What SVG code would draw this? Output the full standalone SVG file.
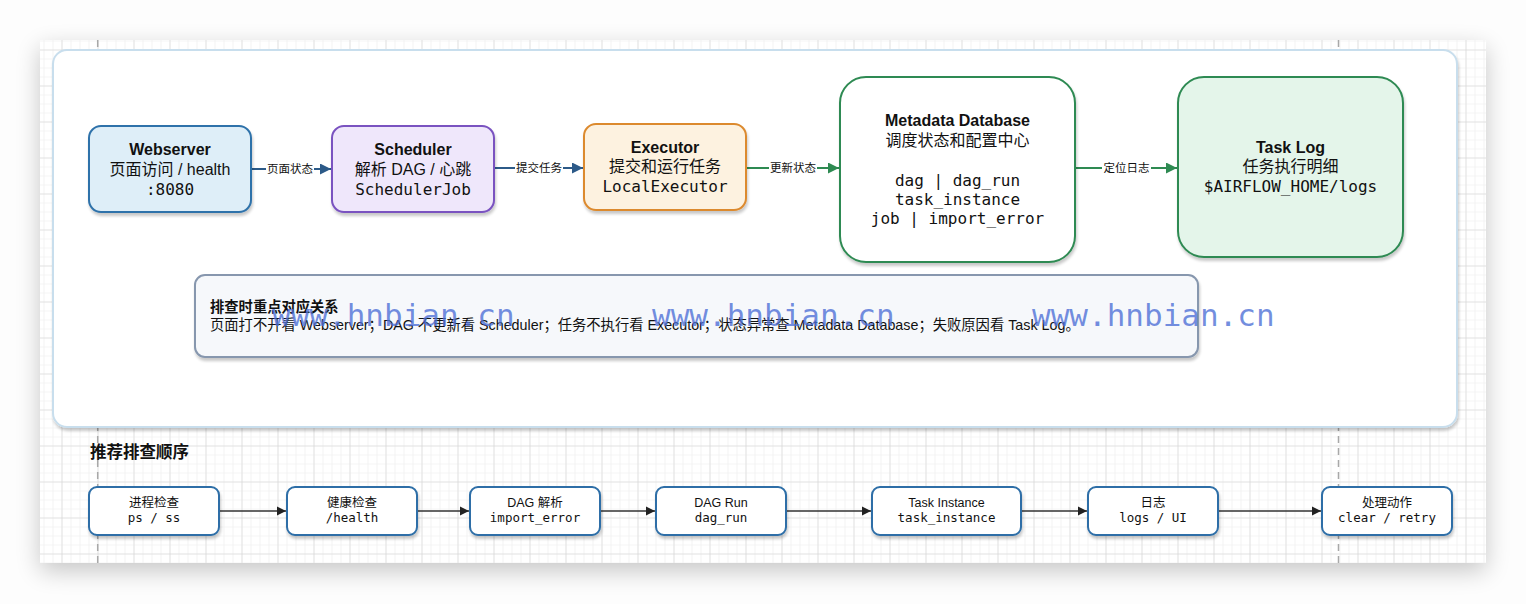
<svg xmlns="http://www.w3.org/2000/svg" width="1526" height="604" viewBox="0 0 1526 604">
<style>
.sans{font-family:"Liberation Sans","Noto Sans CJK SC",sans-serif;fill:#111}
.mono{font-family:"DejaVu Sans Mono","Liberation Mono","Noto Sans CJK SC",monospace;fill:#111}
.b{font-weight:bold}
.t16{font-size:16px}
.m16{font-size:16px}
.lbl{font-size:11.5px}
.t14{font-size:14.3px}
.s12{font-size:12.5px}
.m12{font-size:12.5px}
.link{fill:none;stroke-width:2}
.blue{stroke:#2c5a88}
.green{stroke:#2e8a52}
.step{fill:none;stroke:#333;stroke-width:1.4}
.sbox{fill:#fff;stroke:#2d6ea7;stroke-width:2}
.wm{font-family:"DejaVu Sans Mono",monospace;font-size:31px;fill:#4d6fd6;fill-opacity:0.78}
</style>
<defs>
<pattern id="minor" x="61.5" y="13.5" width="9" height="9" patternUnits="userSpaceOnUse">
<path d="M0 0H9M0 0V9" fill="none" stroke="#ebebeb" stroke-width="1.2"/>
</pattern>
<pattern id="major" x="61.5" y="13.5" width="36" height="36" patternUnits="userSpaceOnUse">
<path d="M0 0H36M0 0V36" fill="none" stroke="#d2d2d2" stroke-width="1"/>
</pattern>
<filter id="pageShadow" x="-5%" y="-10%" width="110%" height="125%">
<feGaussianBlur in="SourceAlpha" stdDeviation="12"/>
<feOffset dx="0" dy="8" result="b"/>
<feComponentTransfer><feFuncA type="linear" slope="0.22"/></feComponentTransfer>
<feMerge><feMergeNode/><feMergeNode in="SourceGraphic"/></feMerge>
</filter>
<filter id="sh" x="-10%" y="-10%" width="125%" height="130%">
<feGaussianBlur in="SourceAlpha" stdDeviation="1.5"/>
<feOffset dx="1" dy="2.5"/>
<feComponentTransfer><feFuncA type="linear" slope="0.22"/></feComponentTransfer>
<feMerge><feMergeNode/><feMergeNode in="SourceGraphic"/></feMerge>
</filter>
<marker id="ab" viewBox="0 0 10 10" refX="10" refY="5" markerWidth="5.5" markerHeight="5.5" orient="auto" markerUnits="strokeWidth">
<path d="M0 0L10 5L0 10z" fill="#2c5a88"/>
</marker>
<marker id="ag" viewBox="0 0 10 10" refX="10" refY="5" markerWidth="5.5" markerHeight="5.5" orient="auto" markerUnits="strokeWidth">
<path d="M0 0L10 5L0 10z" fill="#2e8a52"/>
</marker>
<marker id="ak" viewBox="0 0 10 10" refX="10" refY="5" markerWidth="6.5" markerHeight="6.5" orient="auto" markerUnits="strokeWidth">
<path d="M0 0L10 5L0 10z" fill="#222"/>
</marker>
</defs>

<rect width="1526" height="604" fill="#fdfdfd"/>
<g id="canvas">
<rect x="40" y="40" width="1446" height="523" fill="#fff" filter="url(#pageShadow)"/>
<rect x="40" y="40" width="1446" height="523" fill="url(#minor)"/>
<rect x="40" y="40" width="1446" height="523" fill="url(#major)"/>
<path d="M97.7 40V563M1338.5 40V563" stroke="#a8a8a8" stroke-width="1.5" stroke-dasharray="7 5" fill="none"/>
</g>

<g id="panel">
<rect x="53" y="50" width="1404" height="377" rx="14" fill="#fff" stroke="#c8deed" stroke-width="2" filter="url(#sh)"/>
</g>

<g id="connectors">
<path class="link blue" d="M251 169H331" marker-end="url(#ab)"/>
<path class="link blue" d="M494 168H583" marker-end="url(#ab)"/>
<path class="link green" d="M746 168H839" marker-end="url(#ag)"/>
<path class="link green" d="M1075 168H1177" marker-end="url(#ag)"/>
<rect x="266" y="162" width="48" height="14" fill="#fff"/>
<rect x="515" y="161" width="48" height="14" fill="#fff"/>
<rect x="769" y="161" width="48" height="14" fill="#fff"/>
<rect x="1102" y="161" width="49" height="14" fill="#fff"/>
<text class="sans lbl" x="290" y="173" text-anchor="middle">页面状态</text>
<text class="sans lbl" x="539" y="172" text-anchor="middle">提交任务</text>
<text class="sans lbl" x="793" y="172" text-anchor="middle">更新状态</text>
<text class="sans lbl" x="1126.5" y="172" text-anchor="middle">定位日志</text>

<path class="step" d="M219 511H286" marker-end="url(#ak)"/>
<path class="step" d="M417 511H469" marker-end="url(#ak)"/>
<path class="step" d="M600 511H655" marker-end="url(#ak)"/>
<path class="step" d="M786 511H871" marker-end="url(#ak)"/>
<path class="step" d="M1021 511H1087" marker-end="url(#ak)"/>
<path class="step" d="M1218 511H1321" marker-end="url(#ak)"/>
</g>

<g id="webserver">
<rect x="89" y="126" width="162" height="86" rx="12" fill="#deeef8" stroke="#2f72aa" stroke-width="2" filter="url(#sh)"/>
<text class="sans b t16" x="170" y="155" text-anchor="middle">Webserver</text>
<text class="sans t16" x="170" y="175" text-anchor="middle">页面访问 / health</text>
<text class="mono m16" x="170" y="195" text-anchor="middle">:8080</text>
</g>

<g id="scheduler">
<rect x="332" y="126" width="162" height="86" rx="12" fill="#efe7fb" stroke="#7a52c0" stroke-width="2" filter="url(#sh)"/>
<text class="sans b t16" x="413" y="155" text-anchor="middle">Scheduler</text>
<text class="sans t16" x="413" y="175" text-anchor="middle">解析 DAG / 心跳</text>
<text class="mono m16" x="413" y="195" text-anchor="middle">SchedulerJob</text>
</g>

<g id="executor">
<rect x="584" y="124" width="162" height="86" rx="12" fill="#fdf2e0" stroke="#dc8a2f" stroke-width="2" filter="url(#sh)"/>
<text class="sans b t16" x="665" y="153" text-anchor="middle">Executor</text>
<text class="sans t16" x="665" y="172" text-anchor="middle">提交和运行任务</text>
<text class="mono m16" x="665" y="192" text-anchor="middle">LocalExecutor</text>
</g>

<g id="metadata">
<rect x="840" y="77" width="235" height="185" rx="26" fill="#fff" stroke="#2e8a52" stroke-width="2" filter="url(#sh)"/>
<text class="sans b t16" x="957.5" y="126" text-anchor="middle">Metadata Database</text>
<text class="sans t16" x="957.5" y="146" text-anchor="middle">调度状态和配置中心</text>
<text class="mono m16" x="957.5" y="186" text-anchor="middle">dag | dag_run</text>
<text class="mono m16" x="957.5" y="205" text-anchor="middle">task_instance</text>
<text class="mono m16" x="957.5" y="224" text-anchor="middle">job | import_error</text>
</g>

<g id="tasklog">
<rect x="1178" y="77" width="225" height="180" rx="26" fill="#e4f5ea" stroke="#2e8a52" stroke-width="2" filter="url(#sh)"/>
<text class="sans b t16" x="1290.5" y="153" text-anchor="middle">Task Log</text>
<text class="sans t16" x="1290.5" y="172" text-anchor="middle">任务执行明细</text>
<text class="mono m16" x="1290.5" y="192" text-anchor="middle">$AIRFLOW_HOME/logs</text>
</g>

<g id="note">
<rect x="195" y="275" width="1003" height="82" rx="10" fill="#f6f8fb" stroke="#8797ae" stroke-width="2" filter="url(#sh)"/>
<text class="sans b t14" x="210" y="312">排查时重点对应关系</text>
<text class="sans t14" x="210" y="330">页面打不开看 Webserver；DAG 不更新看 Scheduler；任务不执行看 Executor；状态异常查 Metadata Database；失败原因看 Task Log。</text>
</g>

<g id="order-title">
<text class="sans b" x="90" y="458" font-size="16.5">推荐排查顺序</text>
</g>

<g id="step1">
<rect class="sbox" x="89" y="487" width="130" height="48" rx="8" filter="url(#sh)"/>
<text class="sans s12" x="154" y="506.5" text-anchor="middle">进程检查</text>
<text class="mono m12" x="154" y="522" text-anchor="middle">ps / ss</text>
</g>
<g id="step2">
<rect class="sbox" x="287" y="487" width="130" height="48" rx="8" filter="url(#sh)"/>
<text class="sans s12" x="352" y="506.5" text-anchor="middle">健康检查</text>
<text class="mono m12" x="352" y="522" text-anchor="middle">/health</text>
</g>
<g id="step3">
<rect class="sbox" x="470" y="487" width="130" height="48" rx="8" filter="url(#sh)"/>
<text class="sans s12" x="535" y="506.5" text-anchor="middle">DAG 解析</text>
<text class="mono m12" x="535" y="522" text-anchor="middle">import_error</text>
</g>
<g id="step4">
<rect class="sbox" x="656" y="487" width="130" height="48" rx="8" filter="url(#sh)"/>
<text class="sans s12" x="721" y="506.5" text-anchor="middle">DAG Run</text>
<text class="mono m12" x="721" y="522" text-anchor="middle">dag_run</text>
</g>
<g id="step5">
<rect class="sbox" x="872" y="487" width="149" height="48" rx="8" filter="url(#sh)"/>
<text class="sans s12" x="946.5" y="506.5" text-anchor="middle">Task Instance</text>
<text class="mono m12" x="946.5" y="522" text-anchor="middle">task_instance</text>
</g>
<g id="step6">
<rect class="sbox" x="1088" y="487" width="130" height="48" rx="8" filter="url(#sh)"/>
<text class="sans s12" x="1153" y="506.5" text-anchor="middle">日志</text>
<text class="mono m12" x="1153" y="522" text-anchor="middle">logs / UI</text>
</g>
<g id="step7">
<rect class="sbox" x="1322" y="487" width="130" height="48" rx="8" filter="url(#sh)"/>
<text class="sans s12" x="1387" y="506.5" text-anchor="middle">处理动作</text>
<text class="mono m12" x="1387" y="522" text-anchor="middle">clear / retry</text>
</g>

<g id="watermark">
<text class="wm" x="272" y="326">www.hnbian.cn</text>
<text class="wm" x="652" y="326">www.hnbian.cn</text>
<text class="wm" x="1032" y="326">www.hnbian.cn</text>
</g>
</svg>
